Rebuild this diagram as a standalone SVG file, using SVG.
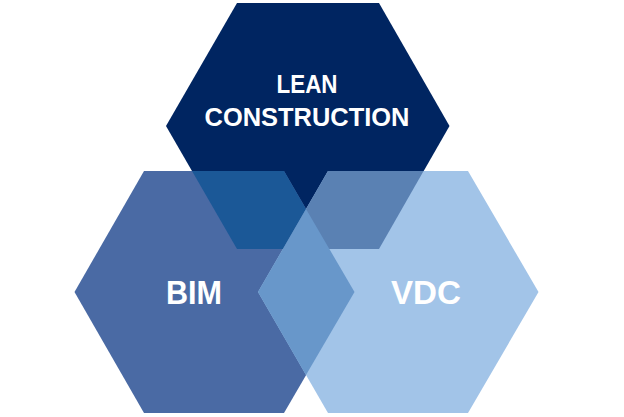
<svg xmlns="http://www.w3.org/2000/svg" width="624" height="417" viewBox="0 0 624 417">
  <style>
    .lbl { font-family: "Liberation Sans", Arial, sans-serif; font-weight: bold; fill: #ffffff; text-anchor: middle; }
  </style>
  <rect width="624" height="417" fill="#ffffff"/>
  <g id="node-lean">
    <polygon points="237,3 379,3 449.5,126 379,249 237,249 166,126" fill="#002561"/>
  </g>
  <g id="node-bim">
    <polygon points="144,171 284,171 354.5,292 284,413 144,413 74.5,292" fill="#4A6AA4"/>
  </g>
  <g id="node-vdc">
    <polygon points="328,171 468,171 538.5,292 468,413 328,413 258,292" fill="#A2C4E8"/>
  </g>
  <g id="overlaps">
    <polygon points="192,171 284,171 329.1,249 237,249" fill="#1B5897"/>
    <polygon points="328,171 423.6,171 379,249 282.9,249" fill="#5A81B3"/>
    <polygon points="306,209 354.5,292 306,375 258,292" fill="#6897CA"/>
  </g>
  <g id="connectors"></g>
  <g id="labels">
    <text class="lbl" x="307" y="92.5" font-size="26" textLength="61" lengthAdjust="spacingAndGlyphs">LEAN</text>
    <text class="lbl" x="307" y="126" font-size="26" textLength="205" lengthAdjust="spacingAndGlyphs">CONSTRUCTION</text>
    <text class="lbl" x="194" y="304" font-size="33" textLength="56" lengthAdjust="spacingAndGlyphs">BIM</text>
    <text class="lbl" x="426" y="304" font-size="33" textLength="70" lengthAdjust="spacingAndGlyphs">VDC</text>
  </g>
</svg>
